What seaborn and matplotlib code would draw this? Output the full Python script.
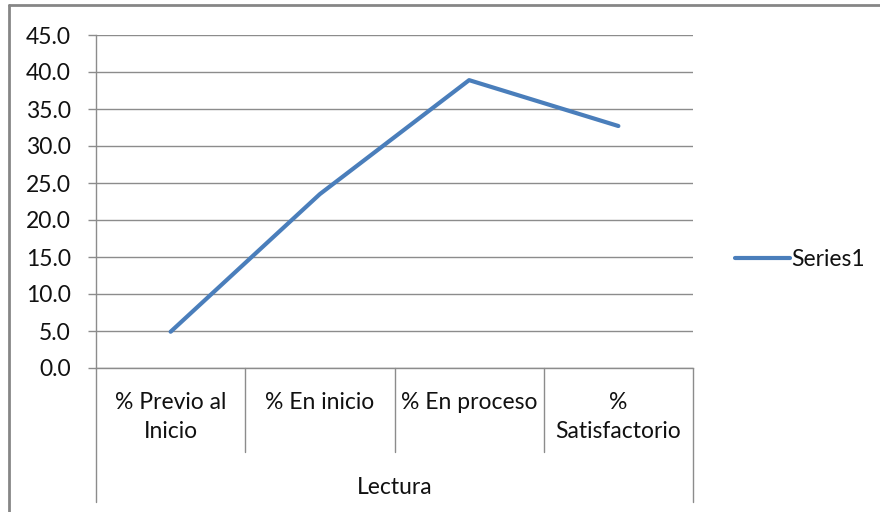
import matplotlib
matplotlib.use('Agg')
import matplotlib.pyplot as plt
import matplotlib.transforms as mtransforms
from matplotlib.lines import Line2D
import pandas as pd
import seaborn as sns

# Data
categories = ['% Previo al\nInicio', '% En inicio', '% En proceso', '%\nSatisfactorio']
group_label = 'Lectura'
series_name = 'Series1'
values = [4.9, 23.5, 38.9, 32.7]
y_ticks = [0, 5, 10, 15, 20, 25, 30, 35, 40, 45]

sns.set_theme(style='white')
plt.rcParams['font.family'] = ['Lato', 'DejaVu Sans']

line_color = '#4a7ebb'
grid_color = '#8c8c8c'
text_color = '#111111'
fs = 16.5

df = pd.DataFrame({'pos': range(len(categories)), 'value': values, 'series': series_name})

fig = plt.figure(figsize=(8.8, 5.12), dpi=100)
ax = fig.add_axes([96 / 880, 1 - 368 / 512, (693 - 96) / 880, (368 - 35) / 512])

sns.lineplot(data=df, x='pos', y='value', color=line_color, linewidth=3.0,
             solid_capstyle='round', ax=ax, legend=False)

ax.set_xlim(-0.5, len(categories) - 0.5)
ax.set_ylim(0, 45)
ax.set_yticks(y_ticks)
ax.set_yticklabels([f'{v:.1f}' for v in y_ticks], fontsize=fs, color=text_color)
ax.set_xticks([])
ax.set_xlabel('')
ax.set_ylabel('')

# gridlines
for v in y_ticks:
    ax.axhline(v, color=grid_color, linewidth=1.0, zorder=0)
ax.tick_params(axis='y', length=6, width=1.0, color=grid_color, pad=12, left=True)

for side in ['top', 'right']:
    ax.spines[side].set_visible(False)
ax.spines['left'].set_color(grid_color)
ax.spines['bottom'].set_color(grid_color)
ax.spines['left'].set_linewidth(1.0)
ax.spines['bottom'].set_linewidth(1.0)

# multi-level category axis
trans = mtransforms.blended_transform_factory(ax.transData, ax.transAxes)
h = 333.0
for i in range(len(categories) + 1):
    x = i - 0.5
    outer = i == 0 or i == len(categories)
    y_end = (368 - 502) / h if outer else (368 - 452) / h
    ax.add_line(Line2D([x, x], [0, y_end], transform=trans, color=grid_color,
                       linewidth=1.0, clip_on=False))

for i, lab in enumerate(categories):
    ax.text(i, (368 - 392) / h, lab, transform=trans, ha='center', va='top',
            fontsize=fs, color=text_color, linespacing=1.5)

ax.text(0.5, (368 - 487) / h, group_label, transform=ax.transAxes, ha='center',
        va='center', fontsize=fs, color=text_color)

# legend
handle = Line2D([], [], color=line_color, linewidth=3.0)
fig.legend([handle], [series_name], loc='center left', bbox_to_anchor=(714 / 880, 1 - 260 / 512),
           frameon=False, fontsize=fs, handlelength=2.4, handletextpad=0.05,
           labelcolor=text_color)

# outer chart frame
fig.add_artist(Line2D([9 / 880, 9 / 880], [0, 1 - 5 / 512], transform=fig.transFigure,
                      color='#868686', linewidth=2.0))
fig.add_artist(Line2D([9 / 880, 1], [1 - 5 / 512, 1 - 5 / 512], transform=fig.transFigure,
                      color='#868686', linewidth=2.0))

fig.savefig('out.png', dpi=100, facecolor='white')
